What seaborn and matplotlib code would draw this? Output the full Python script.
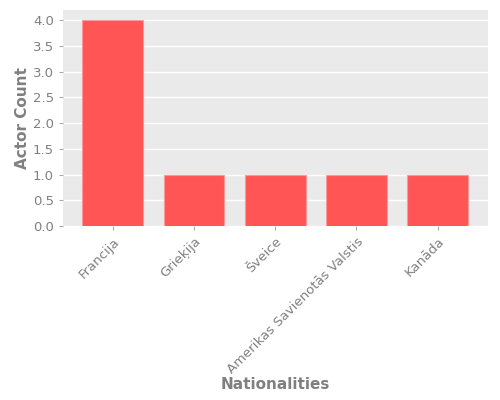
import matplotlib
matplotlib.use("Agg")
import matplotlib.pyplot as plt
import seaborn as sns
import pandas as pd

categories = ["Francija", "Grieķija", "Šveice", "Amerikas Savienotās Valstis", "Kanāda"]
counts = [4, 1, 1, 1, 1]

df = pd.DataFrame({"Nationalities": categories, "Actor Count": counts})

sns.set_theme(style="darkgrid", rc={
    "axes.facecolor": "#EAEAEA",
    "grid.color": "white",
    "axes.edgecolor": "#EAEAEA",
})
plt.rcParams['font.family'] = ['DejaVu Sans']

fig = plt.figure(figsize=(5, 4), dpi=100)
ax = fig.add_axes([0.126, 0.435, 0.849, 0.54])
sns.barplot(data=df, x="Nationalities", y="Actor Count", color="#FF5555",
            saturation=1, width=0.75, edgecolor="#FF9999", linewidth=0.8, ax=ax)
ax.set_xlim(-0.6125, 4.6125)
ax.set_ylim(0, 4.2)
ax.set_yticks([0, 0.5, 1, 1.5, 2, 2.5, 3, 3.5, 4])
ax.set_yticklabels([f"{v:.1f}" for v in [0, 0.5, 1, 1.5, 2, 2.5, 3, 3.5, 4]])
ax.grid(axis="x", visible=False)
ax.grid(axis="y", color="white", linewidth=1)
ax.tick_params(axis="both", colors="#AAAAAA", labelcolor="#808080", labelsize=9.5,
               length=3, width=0.8, direction="out", bottom=True, left=True)
plt.setp(ax.get_xticklabels(), rotation=45, ha="right", rotation_mode="anchor")
ax.set_xlabel("Nationalities", color="#808080", fontsize=11, fontweight="bold", labelpad=1)
ax.set_ylabel("Actor Count", color="#808080", fontsize=11, fontweight="bold", labelpad=2)
for s in ax.spines.values():
    s.set_visible(False)
fig.savefig("out.png", dpi=100)
